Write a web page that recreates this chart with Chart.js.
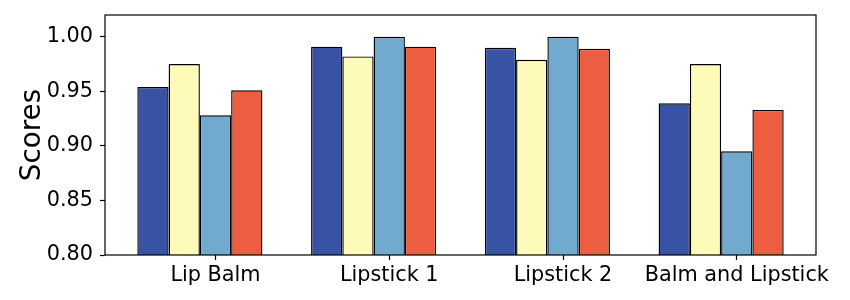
<!DOCTYPE html>
<html>
<head>
<meta charset="utf-8">
<script src="https://cdn.jsdelivr.net/npm/chart.js@4"></script>
<style>
  html, body { margin: 0; padding: 0; background: #fff; }
  canvas { display: block; }
</style>
</head>
<body>
<canvas id="c" width="850" height="300"></canvas>
<script>
// ---- data ----
const categories = ['Lip Balm', 'Lipstick 1', 'Lipstick 2', 'Balm and Lipstick'];
const series1 = [0.954, 0.991, 0.990, 0.939];
const series2 = [0.975, 0.982, 0.979, 0.975];
const series3 = [0.928, 1.000, 1.000, 0.895];
const series4 = [0.951, 0.991, 0.989, 0.933];
const yTicks = [0.80, 0.85, 0.90, 0.95, 1.00];
const yLabel = 'Scores';

const seriesList = [series1, series2, series3, series4];
const colors = ['#3953a4', '#fefab9', '#72a9cf', '#ec5e3f'];

const FONT = 'DejaVu Sans';

const spines = {
  id: 'spines',
  afterDatasetsDraw(chart) {
    const a = chart.chartArea;
    const ctx = chart.ctx;
    ctx.save();
    ctx.strokeStyle = '#000';
    ctx.lineWidth = 1.2;
    ctx.strokeRect(a.left, a.top, a.right - a.left, a.bottom - a.top);
    ctx.restore();
  }
};

new Chart(document.getElementById('c'), {
  type: 'bar',
  data: {
    datasets: seriesList.map((s, k) => ({
      data: s.map((v, i) => ({ x: i, y: v })),
      backgroundColor: colors[k],
      borderColor: '#000',
      borderWidth: 1.4,
      borderSkipped: false,
      categoryPercentage: 0.72,
      barPercentage: 1.0
    }))
  },
  options: {
    responsive: false,
    devicePixelRatio: 1,
    animation: false,
    layout: { padding: { left: 0, top: 15, right: 34, bottom: 0 } },
    plugins: { legend: { display: false }, tooltip: { enabled: false } },
    scales: {
      x: {
        type: 'linear',
        offset: false,
        min: -0.546,
        max: 3.546,
        afterBuildTicks(scale) {
          scale.ticks = categories.map((c, i) => ({ value: i + 0.09 }));
        },
        afterFit(scale) {
          scale.height = 45;
          scale.paddingLeft = 0; scale.paddingRight = 0;
          scale.paddingTop = 0; scale.paddingBottom = 0;
        },
        grid: { display: true, drawOnChartArea: false, offset: false, tickLength: 5, tickColor: '#000', tickWidth: 1.2 },
        border: { display: false },
        ticks: {
          autoSkip: false,
          maxRotation: 0,
          padding: 3,
          color: '#000',
          font: { family: FONT, size: 20.8 },
          callback: (v, idx) => categories[idx]
        }
      },
      y: {
        min: 0.8,
        max: 1.02,
        afterBuildTicks(scale) {
          scale.ticks = yTicks.map(v => ({ value: v }));
        },
        afterFit(scale) {
          scale.width = 105;
          scale.paddingLeft = 0; scale.paddingRight = 0;
          scale.paddingTop = 0; scale.paddingBottom = 0;
        },
        grid: { display: true, drawOnChartArea: false, tickLength: 5, tickColor: '#000', tickWidth: 1.2 },
        border: { display: false },
        ticks: {
          padding: 7,
          color: '#000',
          font: { family: FONT, size: 20.8 },
          callback: v => Number(v).toFixed(2)
        },
        title: {
          display: true,
          text: yLabel,
          color: '#000',
          font: { family: FONT, size: 27.8 },
          padding: { top: 16, bottom: 0 }
        }
      }
    }
  },
  plugins: [spines]
});
</script>
</body>
</html>
